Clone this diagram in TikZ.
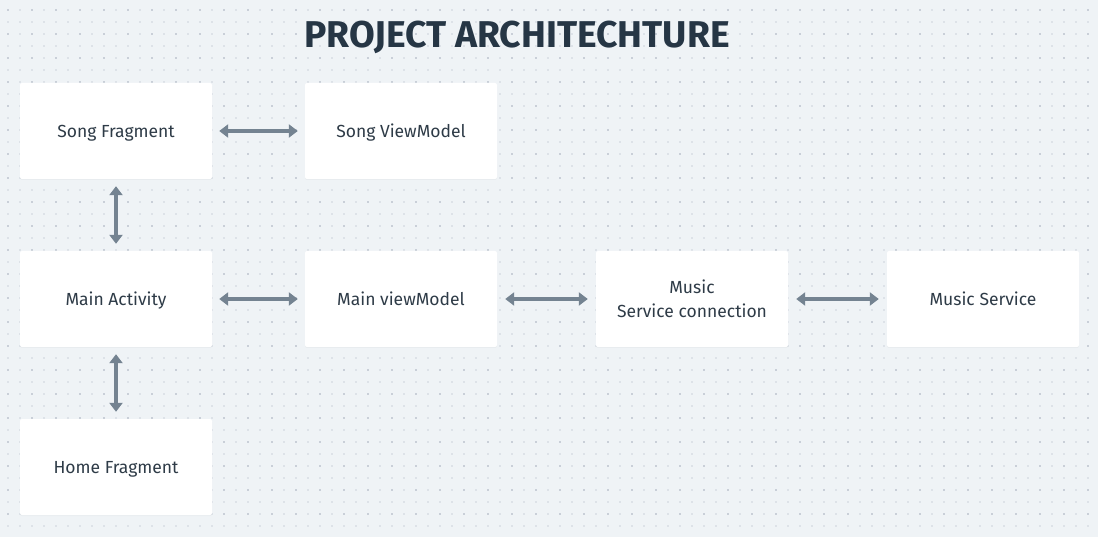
\documentclass[tikz,border=0pt]{standalone}
\usepackage{fontspec}
\setmainfont{Fira Sans}
\usetikzlibrary{arrows.meta,shadows}
\definecolor{bg}{HTML}{EFF3F6}
\definecolor{dotmaj}{HTML}{C9CFD8}
\definecolor{dotmin}{HTML}{DDE2E8}
\definecolor{txt}{HTML}{2E3B47}
\definecolor{ttl}{HTML}{263645}
\definecolor{arr}{HTML}{748391}
\tikzset{
  box/.style={fill=white, rounded corners=2pt, minimum width=192pt, minimum height=96pt,
    inner sep=0pt, align=center, text=txt, font=\fontsize{17.5}{24}\selectfont,
    drop shadow={opacity=0.06, shadow xshift=0pt, shadow yshift=-1pt}},
  lbl/.style={text depth=0pt},
  link/.style={draw=arr, line width=4pt, {Triangle[width=13pt,length=9pt]}-{Triangle[width=13pt,length=9pt]}}
}
\begin{document}
\begin{tikzpicture}[x=1pt,y=-1pt]
\fill[bg] (0,0) rectangle (1098,537);
\useasboundingbox (0,0) rectangle (1098,537);
\foreach \i in {0,...,91}{
  \foreach \j in {0,...,44}{
    \fill[dotmin] ({8+12*\i-1},{10+12*\j-1}) rectangle ++(2,2);
  }
}
\foreach \i in {0,...,45}{
  \foreach \j in {0,...,22}{
    \fill[dotmaj] ({8+24*\i-1},{10+24*\j-1}) rectangle ++(2,2);
  }
}
\node[text=ttl, font=\fontsize{37.3}{40}\bfseries\selectfont, anchor=center] (title) at (517,37) {PROJECT ARCHITECHTURE};
\node[box,lbl] (sf) at (116,131) {Song Fragment};
\node[box,lbl] (svm) at (401,131) {Song ViewModel};
\node[box,lbl] (ma) at (116,299) {Main Activity};
\node[box,lbl] (mvm) at (401,299) {Main viewModel};
\node[box] (msc) at (692,299) {Music\\Service connection};
\node[box,lbl] (ms) at (983,299) {Music Service};
\node[box,lbl] (hf) at (116,467) {Home Fragment};
\draw[link] ([xshift=7pt]sf.east) -- ([xshift=-7pt]svm.west);
\draw[link] ([yshift=-7pt]sf.south) -- ([yshift=7pt]ma.north);
\draw[link] ([xshift=7pt]ma.east) -- ([xshift=-7pt]mvm.west);
\draw[link] ([yshift=-7pt]ma.south) -- ([yshift=7pt]hf.north);
\draw[link] ([xshift=8pt]mvm.east) -- ([xshift=-8pt]msc.west);
\draw[link] ([xshift=8pt]msc.east) -- ([xshift=-8pt]ms.west);
\end{tikzpicture}
\end{document}
